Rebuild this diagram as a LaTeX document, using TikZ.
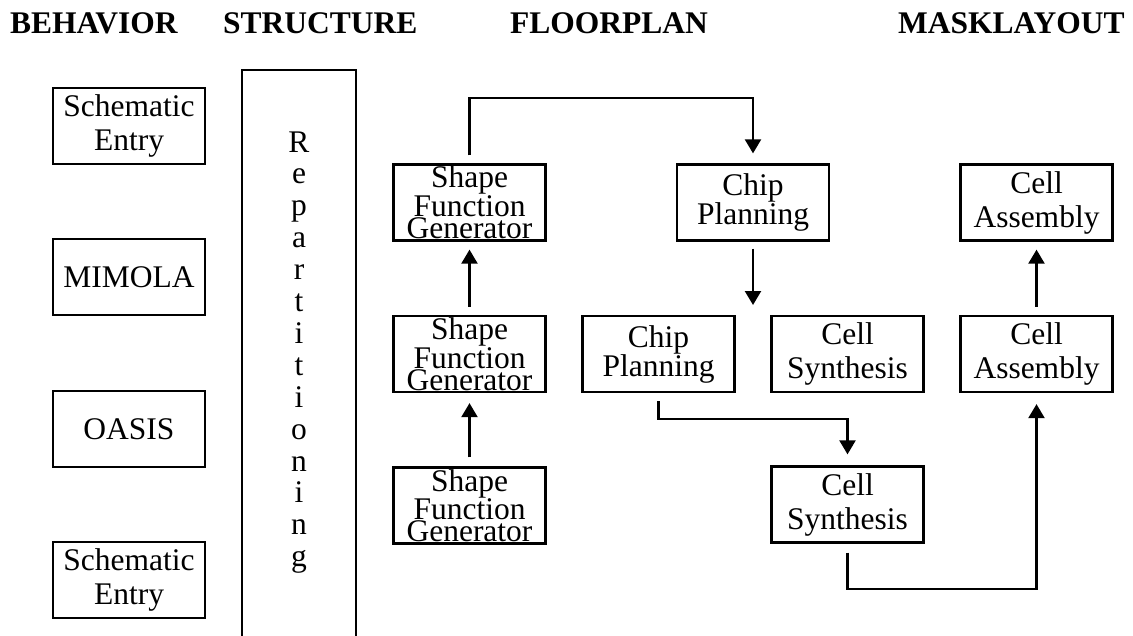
\documentclass[tikz,border=0pt]{standalone}
\usepackage{fontspec}
\setmainfont{Liberation Serif}
\usetikzlibrary{arrows.meta}
\begin{document}
\begin{tikzpicture}[x=1pt,y=-1pt,
  every node/.style={font=\fontsize{31.5}{34}\selectfont},
  hdr/.style={anchor=base west,inner sep=0pt,font=\fontsize{31.5}{34}\selectfont\bfseries},
  blk/.style={draw,line width=2.3pt,minimum width=152pt,minimum height=76pt,inner sep=0pt,align=center},
  chipbox/.style={blk,font=\fontsize{31.5}{29}\selectfont},
  sfgbox/.style={blk,font=\fontsize{31.5}{22}\selectfont},
  arr/.style={line width=2.3pt,line join=miter,-{Triangle[length=14pt,width=16pt]}},
  letter/.style={anchor=base,inner sep=0pt}]
\useasboundingbox (0,0) rectangle (1133,635);
% headers
\node[hdr] (h1) at (10,33) {BEHAVIOR};
\node[hdr] (h2) at (223,33) {STRUCTURE};
\node[hdr] (h3) at (510,33) {FLOORPLAN};
\node[hdr] (h4) at (898,33) {MASKLAYOUT};
% behavior column
\node[blk] (se1) at (129,126) {Schematic\\Entry};
\node[blk] (mim) at (129,277) {MIMOLA};
\node[blk] (oas) at (129,429) {OASIS};
\node[blk] (se2) at (129,580) {Schematic\\Entry};
% repartitioning
\node[draw,line width=2.3pt,minimum width=114pt,minimum height=580pt,inner sep=0pt] (rep) at (299,360) {};
\foreach \c [count=\i from 0] in {R,e,p,a,r,t,i,t,i,o,n,i,n,g}
  \node[letter] (L\i) at (299,{152+\i*31.9}) {\c};
% floorplan
\node[sfgbox] (sfg1) at (469.5,202.5) {Shape\\Function\\Generator};
\node[sfgbox] (sfg2) at (469.5,354) {Shape\\Function\\Generator};
\node[sfgbox] (sfg3) at (469.5,505.5) {Shape\\Function\\Generator};
\node[chipbox] (cp1) at (753,202.5) {Chip\\Planning};
\node[chipbox] (cp2) at (658.5,354) {Chip\\Planning};
\node[blk] (cs1) at (847.5,354) {Cell\\Synthesis};
\node[blk] (cs2) at (847.5,504.5) {Cell\\Synthesis};
\node[blk] (ca1) at (1036.5,202.5) {Cell\\Assembly};
\node[blk] (ca2) at (1036.5,354) {Cell\\Assembly};
% connector helpers
\coordinate (t1) at (469.5,98);
\coordinate (cpd) at (753,305);
\coordinate (j1) at (658.5,419);
\coordinate (j2) at (847.5,589);
% connectors
\draw[arr,shorten <=8pt,shorten >=10pt] (sfg1.north) -- (t1) -| (cp1.north);
\draw[arr,shorten <=8pt,shorten >=8pt] (sfg2.north) -- (sfg1.south);
\draw[arr,shorten <=9pt,shorten >=10pt] (sfg3.north) -- (sfg2.south);
\draw[arr,shorten <=7pt] (cp1.south) -- (cpd);
\draw[arr,shorten <=8pt,shorten >=11pt] (cp2.south) -- (j1) -| (cs2.north);
\draw[arr,shorten <=9pt,shorten >=11pt] (cs2.south) -- (j2) -| (ca2.south);
\draw[arr,shorten <=8pt,shorten >=8pt] (ca2.north) -- (ca1.south);
\end{tikzpicture}
\end{document}
